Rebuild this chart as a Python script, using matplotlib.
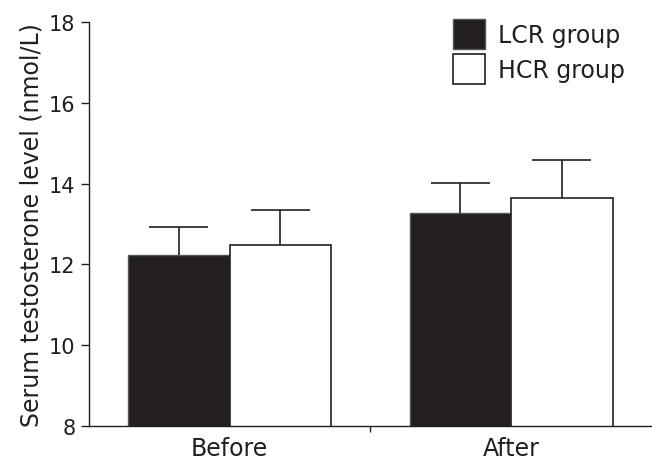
import matplotlib.pyplot as plt
import numpy as np

# data
groups = ["Before", "After"]
lcr_mean = [12.23, 13.28]
lcr_err = [0.69, 0.73]
hcr_mean = [12.47, 13.63]
hcr_err = [0.88, 0.96]

ink = "#231f20"

fig = plt.figure(figsize=(6.52, 4.6), dpi=100)
ax = fig.add_axes([0.136, 0.072, 0.864, 0.878])

x = np.arange(len(groups))
w = 0.36
cap = 0.105  # half width of the error bar cap, in category units

ax.bar(x - w / 2, lcr_mean, w, color=ink, edgecolor="#555555", linewidth=1,
       label="LCR group", zorder=2)
ax.bar(x + w / 2, hcr_mean, w, color="white", edgecolor=ink, linewidth=1.2,
       label="HCR group", zorder=2)

# upper error bars only
for xs, m, e in [(x - w / 2, lcr_mean, lcr_err), (x + w / 2, hcr_mean, hcr_err)]:
    top = np.array(m) + np.array(e)
    ax.vlines(xs, m, top, color=ink, linewidth=1.2, zorder=3)
    ax.hlines(top, xs - cap, xs + cap, color=ink, linewidth=1.2, zorder=3)

ax.set_xlim(-0.5, 1.5)
ax.set_ylim(8, 18)
ax.set_yticks(np.arange(8, 19, 2))
ax.set_xticks(x)
ax.set_xticklabels(groups, fontsize=17)
ax.tick_params(axis="x", length=0, pad=7)
ax.set_xticks([0.5], minor=True)
ax.tick_params(axis="x", which="minor", length=4, width=1, color=ink)
ax.tick_params(axis="y", length=6, width=1, color=ink, labelsize=15, labelcolor=ink)
ax.tick_params(axis="x", labelcolor=ink)

for s in ["top", "right"]:
    ax.spines[s].set_visible(False)
for s in ["left", "bottom"]:
    ax.spines[s].set_color(ink)
    ax.spines[s].set_linewidth(1)

ax.set_ylabel("Serum testosterone level (nmol/L)", fontsize=17, color=ink, labelpad=4)

leg = ax.legend(loc="upper right", bbox_to_anchor=(0.99, 1.06), frameon=False, fontsize=17,
                handlelength=1.35, handleheight=1.55, handletextpad=0.55, labelspacing=0.25)
for t in leg.get_texts():
    t.set_color(ink)

fig.savefig("out.png", dpi=100)
